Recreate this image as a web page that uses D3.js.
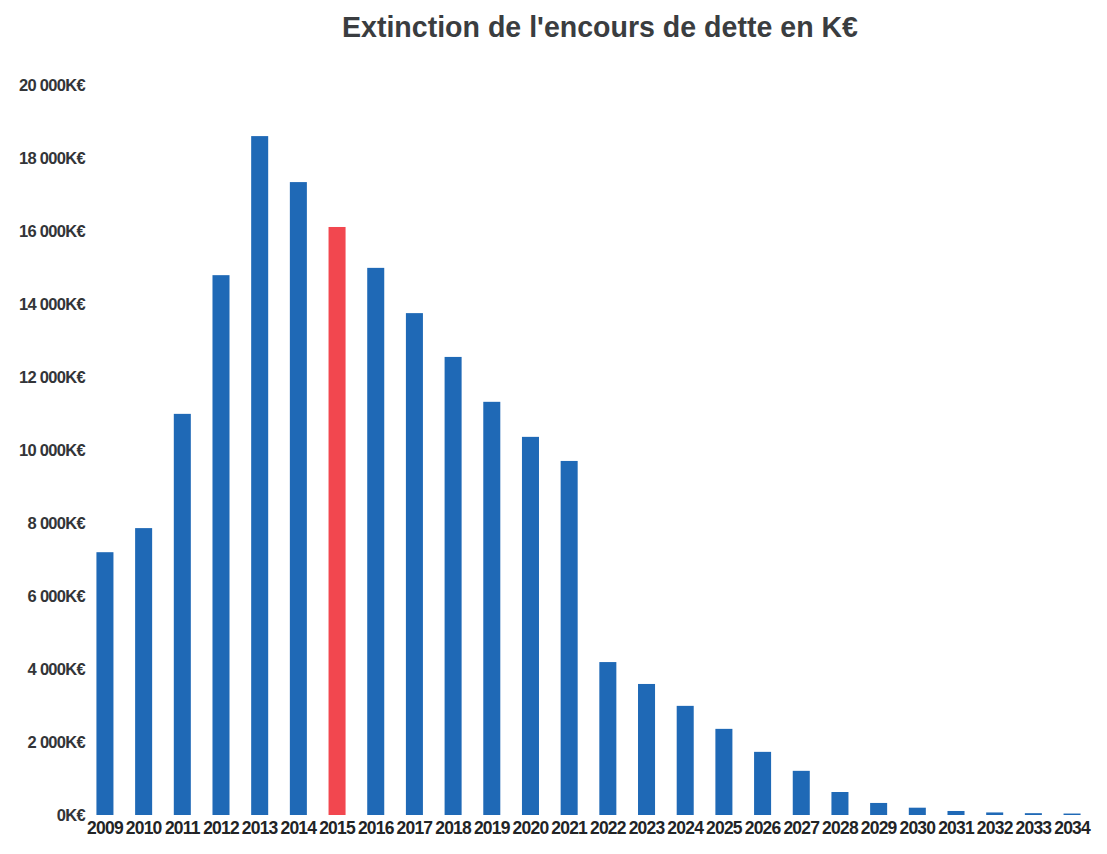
<!DOCTYPE html>
<html>
<head>
<meta charset="utf-8">
<script src="https://cdn.jsdelivr.net/npm/d3@7"></script>
<style>
  html, body { margin: 0; padding: 0; background: #fff; }
  svg { display: block; }
  text { font-family: "Liberation Sans", Arial, sans-serif; font-weight: bold; fill: #333538; }
</style>
</head>
<body>
<svg id="chart" width="1107" height="854"></svg>
<script>
const title = "Extinction de l'encours de dette en K€";
const years = ["2009","2010","2011","2012","2013","2014","2015","2016","2017","2018","2019","2020","2021",
               "2022","2023","2024","2025","2026","2027","2028","2029","2030","2031","2032","2033","2034"];
const debt = [7200, 7860, 10990, 14790, 18600, 17340, 16110, 14990, 13750, 12550, 11320, 10360, 9700,
              4190, 3590, 2990, 2360, 1730, 1210, 630, 330, 200, 110, 70, 50, 40];
const highlightYear = "2015";
const yTicks = [0, 2000, 4000, 6000, 8000, 10000, 12000, 14000, 16000, 18000, 20000];

const svg = d3.select("#chart");
const blue = "#1f69b6", red = "#f2474f";

const x = d3.scaleBand().domain(years).range([85.6, 1091.4]).paddingInner(0.56).paddingOuter(0.28);
const y = d3.scaleLinear().domain([0, 20000]).range([815, 85]);

const fmt = v => (v === 0 ? "0" : d3.format(",")(v).replace(",", " ")) + "K€";

// title
svg.append("text")
  .attr("x", 342).attr("y", 37)
  .attr("font-size", 30)
  .attr("textLength", 516).attr("lengthAdjust", "spacingAndGlyphs")
  .style("fill", "#3a3d40")
  .text(title);

// y axis
const yAxis = d3.axisLeft(y).tickValues(yTicks).tickFormat(fmt).tickSize(0).tickPadding(0);
const gy = svg.append("g").attr("transform", "translate(85,0)").call(yAxis);
gy.select(".domain").remove();
gy.selectAll("text").attr("font-size", 16.5).style("letter-spacing", "-0.7px")
  .attr("font-family", null).style("fill", "#333538");

// bars
svg.append("g").selectAll("rect").data(years).join("rect")
  .attr("x", d => x(d))
  .attr("width", x.bandwidth())
  .attr("y", (d, i) => y(debt[i]))
  .attr("height", (d, i) => y(0) - y(debt[i]))
  .attr("fill", d => d === highlightYear ? red : blue);

// x axis
const xAxis = d3.axisBottom(x).tickSize(0).tickPadding(0);
const gx = svg.append("g").attr("transform", "translate(0,822)").call(xAxis);
gx.select(".domain").remove();
gx.selectAll("text").attr("font-size", 17.5).style("letter-spacing", "-0.8px")
  .attr("font-family", null).style("fill", "#222426");
</script>
</body>
</html>
